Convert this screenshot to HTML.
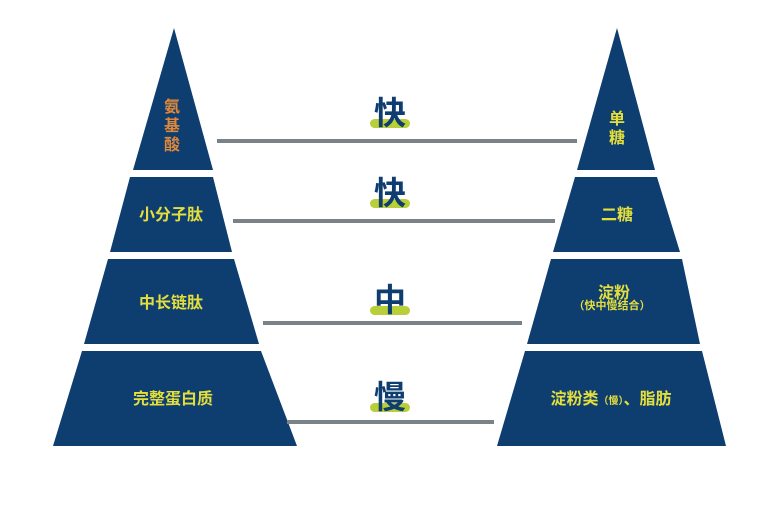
<!DOCTYPE html><html><head><meta charset="utf-8"><style>
body{margin:0;background:#fff;width:780px;height:506px;overflow:hidden}
svg text{font-family:"Liberation Sans","Noto Sans CJK SC",sans-serif;font-weight:bold}
</style></head><body>
<svg width="780" height="506" viewBox="0 0 780 506">
<g fill="#0e3d6f">
<polygon points="174,28 133,170 213,170"/>
<polygon points="130,177 213,177 232,252 110,252"/>
<polygon points="108,259 234,259 259,344 84,344"/>
<polygon points="82,351 261,351 297,446 53,446"/>
<polygon points="617,28 577,170 655,170"/>
<polygon points="575,177 657,177 680,252 553,252"/>
<polygon points="551,259 682,259 700,344 527,344"/>
<polygon points="525,351 702,351 726,446 497,446"/>
</g>
<g stroke="#7a8288" stroke-width="4">
<line x1="217" y1="141" x2="577" y2="141"/>
<line x1="233" y1="221" x2="555" y2="221"/>
<line x1="263" y1="323" x2="522" y2="323"/>
<line x1="287" y1="422" x2="494" y2="422"/>
</g>
<g fill="#b9cf3a">
<rect x="370" y="119" width="40" height="9" rx="4.5"/>
<rect x="370" y="199" width="40" height="9" rx="4.5"/>
<rect x="370" y="306" width="40" height="9" rx="4.5"/>
<rect x="370" y="403" width="40" height="9" rx="4.5"/>
</g>
<g fill="#0e3d6f" font-size="32" text-anchor="middle">
<text x="390" y="124">快</text>
<text x="390" y="204">快</text>
<text x="390" y="311">中</text>
<text x="390" y="408">慢</text>
</g>
<g fill="#e0883a" font-size="16" text-anchor="middle">
<text x="172" y="112">氨</text><text x="172" y="131">基</text><text x="172" y="150">酸</text>
</g>
<g fill="#e4df3c" font-size="16" text-anchor="middle">
<text x="171" y="220">小分子肽</text>
<text x="171" y="308">中长链肽</text>
<text x="173" y="404">完整蛋白质</text>
<text x="617" y="124">单</text><text x="617" y="143">糖</text>
<text x="617" y="220">二糖</text>
<text x="614" y="298">淀粉</text>
<text x="612" y="309" font-size="11">（快中慢结合）</text>
<text x="611" y="404">淀粉类<tspan font-size="10">（慢）</tspan>、脂肪</text>
</g>
</svg>
</body></html>
